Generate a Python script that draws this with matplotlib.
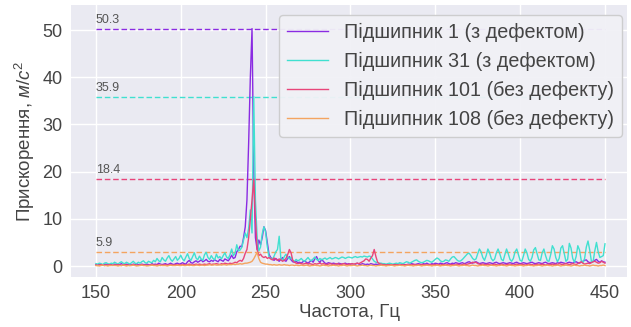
import matplotlib
matplotlib.use("Agg")
import matplotlib.pyplot as plt
import numpy as np

plt.rcParams['font.family'] = ['Liberation Sans', 'DejaVu Sans']
plt.rcParams['mathtext.fontset'] = 'custom'
plt.rcParams['mathtext.it'] = 'Liberation Sans:italic'
plt.rcParams['mathtext.rm'] = 'Liberation Sans'

freq = list(range(150, 451))

bearing_1 = [
    0.3,0.2,0.4,0.3,0.2,0.3,0.4,0.2,0.3,0.3,
    0.2,0.4,0.3,0.2,0.3,0.5,0.3,0.2,0.4,0.3,
    0.3,0.2,0.4,0.3,0.5,0.3,0.2,0.4,0.3,0.3,
    0.4,0.3,0.2,0.5,0.3,0.4,0.3,0.6,0.4,0.3,
    0.4,0.5,0.3,0.4,0.6,0.4,0.3,0.5,0.6,0.4,
    0.5,0.7,0.5,0.4,0.9,1.2,0.7,0.6,0.9,1.1,
    0.8,1.0,1.3,0.9,1.1,1.4,1.0,0.9,1.2,1.0,
    1.3,1.1,0.9,1.4,1.2,1.0,1.5,1.3,1.1,1.6,
    2.3,1.6,1.8,3.0,3.5,4.2,4.1,6.0,8.3,14.0,
    26.0,40.0,50.3,20.0,6.0,3.5,5.5,4.5,6.0,8.3,
    7.5,5.0,2.5,1.8,1.5,1.2,1.6,1.3,1.0,1.4,
    1.8,1.2,1.0,1.6,2.0,1.3,0.9,0.8,1.0,0.7,
    0.8,0.6,0.9,1.1,0.8,0.6,0.9,1.2,0.8,1.5,
    2.0,1.2,0.7,1.4,1.0,0.6,0.5,0.7,0.6,0.5,
    0.6,0.5,0.4,0.6,0.5,0.4,0.5,0.6,0.4,0.5,
    0.4,0.5,0.3,0.4,0.6,0.4,0.3,0.5,0.4,0.3,
    0.4,0.3,0.5,0.4,0.3,0.4,0.3,0.2,0.3,0.4,
    0.3,0.2,0.3,0.4,0.3,0.2,0.3,0.2,0.3,0.4,
    0.3,0.4,0.3,0.2,0.4,0.3,0.5,0.4,0.3,0.4,
    0.5,0.4,0.3,0.5,0.4,0.6,0.4,0.3,0.5,0.4,
    0.6,0.5,0.4,0.6,0.5,0.4,0.6,0.7,0.5,0.4,
    0.6,0.5,0.7,0.6,0.5,0.6,0.7,0.5,0.6,0.8,
    0.9,0.7,0.6,0.8,0.9,0.7,0.5,0.6,0.7,0.6,
    0.5,0.6,0.7,0.6,0.5,0.7,0.8,0.6,0.5,0.6,
    0.7,0.6,0.5,0.6,0.7,0.6,0.5,0.7,0.8,0.6,
    0.5,0.6,0.7,0.6,0.5,0.6,0.7,0.8,0.6,0.5,
    0.6,0.7,0.6,0.5,0.7,0.8,0.6,0.5,0.6,0.7,
    0.6,0.5,0.7,0.6,0.8,0.7,0.6,0.5,0.7,0.8,
    0.7,0.6,0.8,0.9,0.7,0.6,0.8,1.0,1.2,1.3,
    0.9,0.7,0.8,1.0,1.2,1.4,1.0,0.8,1.1,0.9,
    0.8,
]

bearing_31 = [
    0.5,0.4,0.6,0.5,0.3,0.6,0.7,0.5,0.4,0.6,
    0.5,0.8,0.6,0.4,0.7,0.9,0.6,0.5,0.8,0.6,
    0.4,0.7,1.0,0.6,0.5,0.8,0.6,0.9,1.1,0.7,
    0.6,1.0,0.8,0.7,1.2,0.9,1.6,1.1,0.9,1.8,
    1.3,1.0,1.7,2.2,1.4,1.0,1.5,2.0,1.2,1.6,
    2.3,1.5,1.1,1.9,2.6,1.6,1.2,2.0,2.8,1.7,
    1.3,2.1,1.5,1.2,2.4,2.9,1.8,1.4,2.2,1.6,
    1.3,2.5,1.7,2.0,1.5,2.2,2.8,1.9,1.6,2.4,
    3.6,2.2,2.7,4.5,3.2,3.4,4.0,5.5,7.0,6.0,
    8.0,11.9,7.0,35.9,14.0,6.0,3.2,4.0,6.8,8.3,
    7.2,4.0,2.0,1.6,1.4,2.1,3.0,3.5,6.3,1.5,
    1.2,2.0,2.5,1.8,1.5,1.9,1.2,1.0,1.4,1.1,
    1.3,1.6,1.2,1.0,1.4,1.8,1.3,1.1,1.5,1.9,
    1.4,1.2,1.6,1.3,1.5,1.7,1.4,1.6,1.8,1.5,
    1.6,1.8,1.7,1.5,1.7,1.9,1.8,1.6,1.8,1.9,
    1.8,1.7,1.9,2.0,1.8,1.9,2.0,1.9,2.1,2.0,
    1.9,2.1,2.0,1.5,1.0,0.8,0.7,0.6,0.6,0.5,
    0.5,0.4,0.5,0.6,0.5,0.4,0.5,0.6,0.5,0.7,
    0.6,0.5,0.7,0.9,0.8,0.6,0.8,1.0,1.2,1.3,
    1.0,0.8,0.7,0.8,1.0,1.2,1.1,0.9,0.8,1.1,
    1.4,1.7,1.5,1.1,0.9,1.0,1.3,1.2,1.0,1.5,
    1.9,2.0,1.6,1.2,1.0,1.1,1.4,1.8,2.2,2.6,
    2.7,2.2,1.6,1.3,1.5,2.6,3.6,3.0,1.8,1.2,
    2.2,3.6,2.8,1.6,1.1,1.5,2.8,3.6,2.6,1.4,
    1.1,2.4,3.6,2.6,1.4,1.0,1.6,3.0,3.6,2.4,
    1.2,1.0,2.2,3.6,2.8,1.4,1.0,1.8,3.4,3.9,
    2.6,1.3,1.2,2.8,3.6,2.2,1.1,1.0,2.4,4.3,
    3.6,1.8,0.9,1.6,3.8,4.3,2.6,1.0,1.4,4.8,
    3.8,1.6,0.8,2.0,4.3,3.4,1.2,0.7,1.6,4.0,
    5.3,3.4,1.0,0.9,3.2,5.0,3.0,1.8,2.0,2.2,
    4.7,
]

bearing_101 = [
    0.2,0.1,0.2,0.3,0.2,0.1,0.2,0.2,0.3,0.2,
    0.1,0.2,0.2,0.3,0.2,0.1,0.2,0.3,0.2,0.2,
    0.1,0.2,0.3,0.2,0.2,0.1,0.2,0.3,0.2,0.2,
    0.2,0.1,0.2,0.3,0.2,0.2,0.3,0.2,0.1,0.2,
    0.2,0.3,0.2,0.2,0.3,0.2,0.2,0.3,0.2,0.3,
    0.2,0.3,0.3,0.2,0.3,0.4,0.3,0.2,0.3,0.4,
    0.3,0.4,0.3,0.3,0.4,0.3,0.4,0.5,0.3,0.4,
    0.4,0.5,0.4,0.3,0.5,0.4,0.6,0.5,0.4,0.6,
    0.5,0.6,0.8,0.7,1.0,1.2,1.0,1.6,2.7,3.5,
    6.0,10.0,14.0,18.4,10.0,3.5,2.2,2.5,2.0,1.8,
    2.0,1.6,1.8,1.5,1.3,1.7,1.4,1.2,1.5,1.3,
    1.0,1.2,1.6,2.4,3.5,2.8,1.2,0.8,0.6,0.5,
    0.6,0.5,0.4,0.5,0.6,0.4,0.5,0.4,0.3,0.5,
    0.4,0.5,0.6,0.4,0.5,0.4,0.3,0.4,0.5,0.4,
    0.3,0.4,0.5,0.4,0.3,0.4,0.5,0.4,0.3,0.4,
    0.4,0.5,0.4,0.5,0.6,0.5,0.7,0.9,1.1,1.5,
    1.4,1.0,1.7,2.2,3.5,2.0,0.8,0.5,0.4,0.3,
    0.3,0.2,0.3,0.2,0.3,0.2,0.3,0.3,0.2,0.3,
    0.2,0.3,0.2,0.3,0.2,0.3,0.2,0.3,0.3,0.2,
    0.3,0.2,0.3,0.3,0.2,0.3,0.2,0.3,0.2,0.3,
    0.3,0.2,0.3,0.2,0.3,0.3,0.2,0.3,0.2,0.3,
    0.3,0.2,0.3,0.4,0.3,0.2,0.3,0.4,0.3,0.4,
    0.5,0.6,0.8,0.7,0.8,0.5,0.4,0.3,0.4,0.3,
    0.3,0.4,0.3,0.2,0.3,0.4,0.3,0.2,0.3,0.4,
    0.3,0.2,0.3,0.4,0.3,0.3,0.2,0.3,0.4,0.3,
    0.3,0.4,0.3,0.2,0.3,0.4,0.3,0.3,0.2,0.3,
    0.4,0.3,0.3,0.4,0.3,0.2,0.3,0.4,0.3,0.4,
    0.3,0.4,0.3,0.5,0.4,0.3,0.4,0.5,0.4,0.3,
    0.4,0.5,0.4,0.3,0.5,0.7,0.9,0.6,0.4,0.5,
    0.6,0.5,0.7,0.9,1.0,0.8,0.6,0.7,1.0,0.8,
    0.6,
]

bearing_108 = [
    0.1,0.1,0.0,0.1,0.2,0.1,0.1,0.0,0.1,0.1,
    0.2,0.1,0.1,0.0,0.1,0.1,0.2,0.1,0.0,0.1,
    0.1,0.1,0.2,0.1,0.0,0.1,0.1,0.2,0.1,0.1,
    0.0,0.1,0.1,0.2,0.1,0.1,0.0,0.1,0.2,0.1,
    0.1,0.1,0.0,0.1,0.2,0.1,0.1,0.1,0.2,0.1,
    0.1,0.2,0.1,0.1,0.2,0.1,0.2,0.1,0.1,0.2,
    0.2,0.1,0.2,0.2,0.1,0.2,0.2,0.3,0.2,0.2,
    0.3,0.2,0.2,0.3,0.2,0.3,0.3,0.2,0.3,0.3,
    0.3,0.4,0.3,0.4,0.4,0.5,0.4,0.5,0.6,0.6,
    0.7,0.8,1.0,1.5,2.2,2.9,1.6,0.8,0.6,0.5,
    0.4,0.4,0.3,0.3,0.2,0.3,0.2,0.2,0.3,0.2,
    0.2,0.3,0.2,0.2,0.1,0.2,0.2,0.1,0.2,0.1,
    0.1,0.2,0.1,0.1,0.2,0.1,0.0,0.1,0.1,0.2,
    0.1,0.1,0.0,0.1,0.2,0.1,0.1,0.0,0.1,0.1,
    0.2,0.1,0.1,0.0,0.1,0.1,0.2,0.1,0.0,0.1,
    0.1,0.1,0.2,0.1,0.0,0.1,0.1,0.2,0.1,0.1,
    0.0,0.1,0.2,0.1,0.1,0.0,0.1,0.1,0.2,0.1,
    0.1,0.0,0.1,0.1,0.2,0.1,0.0,0.1,0.1,0.2,
    0.1,0.1,0.0,0.1,0.2,0.1,0.1,0.0,0.1,0.1,
    0.2,0.1,0.0,0.1,0.1,0.2,0.1,0.1,0.0,0.1,
    0.1,0.2,0.1,0.0,0.1,0.1,0.2,0.1,0.1,0.0,
    0.1,0.1,0.2,0.1,0.0,0.1,0.1,0.2,0.1,0.1,
    0.0,0.1,0.2,0.1,0.1,0.0,0.1,0.1,0.2,0.1,
    0.1,0.0,0.1,0.2,0.1,0.1,0.0,0.1,0.1,0.2,
    0.1,0.1,0.0,0.1,0.2,0.1,0.1,0.0,0.1,0.1,
    0.2,0.1,0.0,0.1,0.1,0.2,0.1,0.1,0.0,0.1,
    0.1,0.2,0.1,0.0,0.1,0.1,0.2,0.1,0.1,0.0,
    0.1,0.1,0.2,0.1,0.0,0.1,0.1,0.2,0.1,0.1,
    0.0,0.1,0.2,0.1,0.1,0.0,0.1,0.1,0.2,0.1,
    0.1,0.0,0.1,0.2,0.1,0.1,0.0,0.1,0.1,0.2,
    0.1,
]

series_names = [
    "Підшипник 1 (з дефектом)",
    "Підшипник 31 (з дефектом)",
    "Підшипник 101 (без дефекту)",
    "Підшипник 108 (без дефекту)",
]
series_colors = ["#8A2BE2", "#40E0D0", "#E8457A", "#F4A460"]

ref_levels = [50.3, 35.9, 18.4, 2.9]
ref_labels = ["50.3", "35.9", "18.4", "5.9"]

x_ticks = [150, 200, 250, 300, 350, 400, 450]
y_ticks = [0, 10, 20, 30, 40, 50]

fig = plt.figure(figsize=(6.31, 3.27), dpi=100)
ax = fig.add_axes([0.1125, 0.1529, 0.8812, 0.8318])
ax.set_facecolor("#EAEAF2")
for s in ax.spines.values():
    s.set_visible(False)
ax.grid(True, color="white", lw=1.0)
ax.set_axisbelow(True)

data = [bearing_1, bearing_31, bearing_101, bearing_108]
for vals, name, col in zip(data, series_names, series_colors):
    ax.plot(freq, vals, color=col, lw=1.0, label=name, zorder=3)

for lvl, lab, col in zip(ref_levels, ref_labels, series_colors):
    ax.plot([freq[0], freq[-1]], [lvl, lvl], color=col, lw=1.0,
            linestyle=(0, (4, 2)), zorder=2)
    ax.text(freq[0], lvl + 0.6, lab, fontsize=9, color="#555555",
            ha="left", va="bottom", zorder=4)

ax.set_xlim(135.3, 463.0)
ax.set_ylim(-2.33, 55.3)
ax.set_xticks(x_ticks)
ax.set_yticks(y_ticks)
ax.tick_params(axis="both", length=0, labelsize=13, colors="#444444", pad=6)
ax.set_xlabel("Частота, Гц", fontsize=13.5, color="#444444", labelpad=1)
ax.set_ylabel("Прискорення, $м/с^2$", fontsize=13.5, color="#444444", labelpad=4)

leg = ax.legend(loc="upper right", bbox_to_anchor=(0.991, 0.963), fontsize=14.2,
                handlelength=2.1, handletextpad=0.8, labelspacing=0.5,
                borderpad=0.4, borderaxespad=0.0, fancybox=True, framealpha=0.95,
                facecolor="#F1F1F6", edgecolor="#CCCCCC")
leg.set_zorder(5)
for t in leg.get_texts():
    t.set_color("#444444")

fig.savefig("out.png", dpi=100)
